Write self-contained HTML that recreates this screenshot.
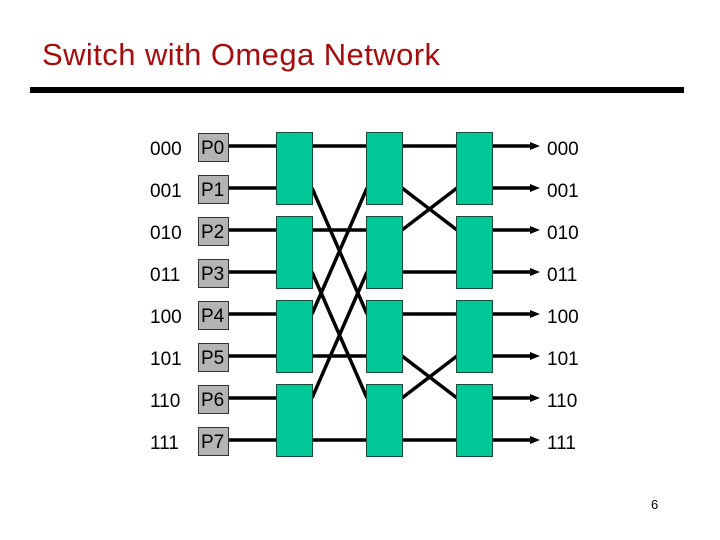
<!DOCTYPE html>
<html><head><style>
html,body{margin:0;padding:0;background:#fff;}
svg{display:block;}
</style></head><body>
<svg width="720" height="540" viewBox="0 0 720 540" xmlns="http://www.w3.org/2000/svg">
<text x="42" y="65" font-family="Liberation Sans, sans-serif" font-size="31" fill="#a50d0d" textLength="398">Switch with Omega Network</text>
<rect x="30" y="87" width="654" height="6" fill="#000"/>
<g stroke="#000" stroke-width="3.5" fill="none">
<line x1="228" y1="146" x2="277" y2="146"/>
<line x1="228" y1="188" x2="277" y2="188"/>
<line x1="228" y1="230" x2="277" y2="230"/>
<line x1="228" y1="272" x2="277" y2="272"/>
<line x1="228" y1="314" x2="277" y2="314"/>
<line x1="228" y1="356" x2="277" y2="356"/>
<line x1="228" y1="398" x2="277" y2="398"/>
<line x1="228" y1="440" x2="277" y2="440"/>
<line x1="312" y1="146" x2="367" y2="146"/>
<line x1="312" y1="188" x2="367" y2="314"/>
<line x1="312" y1="314" x2="367" y2="188"/>
<line x1="312" y1="230" x2="367" y2="230"/>
<line x1="312" y1="272" x2="367" y2="398"/>
<line x1="312" y1="398" x2="367" y2="272"/>
<line x1="312" y1="356" x2="367" y2="356"/>
<line x1="312" y1="440" x2="367" y2="440"/>
<line x1="402" y1="146" x2="457" y2="146"/>
<line x1="402" y1="188" x2="457" y2="230"/>
<line x1="402" y1="230" x2="457" y2="188"/>
<line x1="402" y1="272" x2="457" y2="272"/>
<line x1="402" y1="314" x2="457" y2="314"/>
<line x1="402" y1="356" x2="457" y2="398"/>
<line x1="402" y1="398" x2="457" y2="356"/>
<line x1="402" y1="440" x2="457" y2="440"/>
<line x1="492" y1="146" x2="532" y2="146"/>
<line x1="492" y1="188" x2="532" y2="188"/>
<line x1="492" y1="230" x2="532" y2="230"/>
<line x1="492" y1="272" x2="532" y2="272"/>
<line x1="492" y1="314" x2="532" y2="314"/>
<line x1="492" y1="356" x2="532" y2="356"/>
<line x1="492" y1="398" x2="532" y2="398"/>
<line x1="492" y1="440" x2="532" y2="440"/>
</g>
<g fill="#000">
<polygon points="530,142 540,146 530,150"/>
<polygon points="530,184 540,188 530,192"/>
<polygon points="530,226 540,230 530,234"/>
<polygon points="530,268 540,272 530,276"/>
<polygon points="530,310 540,314 530,318"/>
<polygon points="530,352 540,356 530,360"/>
<polygon points="530,394 540,398 530,402"/>
<polygon points="530,436 540,440 530,444"/>
</g>
<g fill="#00c896" stroke="#1a4a3a" stroke-width="1">
<rect x="276.5" y="132.5" width="36" height="72"/>
<rect x="276.5" y="216.5" width="36" height="72"/>
<rect x="276.5" y="300.5" width="36" height="72"/>
<rect x="276.5" y="384.5" width="36" height="72"/>
<rect x="366.5" y="132.5" width="36" height="72"/>
<rect x="366.5" y="216.5" width="36" height="72"/>
<rect x="366.5" y="300.5" width="36" height="72"/>
<rect x="366.5" y="384.5" width="36" height="72"/>
<rect x="456.5" y="132.5" width="36" height="72"/>
<rect x="456.5" y="216.5" width="36" height="72"/>
<rect x="456.5" y="300.5" width="36" height="72"/>
<rect x="456.5" y="384.5" width="36" height="72"/>
</g>
<g fill="#b4b4b4" stroke="#333" stroke-width="1">
<rect x="198.5" y="133.5" width="30" height="28"/>
<rect x="198.5" y="175.5" width="30" height="28"/>
<rect x="198.5" y="217.5" width="30" height="28"/>
<rect x="198.5" y="259.5" width="30" height="28"/>
<rect x="198.5" y="301.5" width="30" height="28"/>
<rect x="198.5" y="343.5" width="30" height="28"/>
<rect x="198.5" y="385.5" width="30" height="28"/>
<rect x="198.5" y="427.5" width="30" height="28"/>
</g>
<g font-family="Liberation Sans, sans-serif" font-size="19" fill="#000">
<text x="201" y="154">P0</text><text x="201" y="196">P1</text>
<text x="201" y="238">P2</text><text x="201" y="280">P3</text>
<text x="201" y="322">P4</text><text x="201" y="364">P5</text>
<text x="201" y="406">P6</text><text x="201" y="448">P7</text>
<text x="150" y="155">000</text><text x="150" y="197">001</text>
<text x="150" y="239">010</text><text x="150" y="281">011</text>
<text x="150" y="323">100</text><text x="150" y="365">101</text>
<text x="150" y="407">110</text><text x="150" y="449">111</text>
<text x="547" y="155">000</text><text x="547" y="197">001</text>
<text x="547" y="239">010</text><text x="547" y="281">011</text>
<text x="547" y="323">100</text><text x="547" y="365">101</text>
<text x="547" y="407">110</text><text x="547" y="449">111</text>
</g>
<text x="651" y="509" font-family="Liberation Sans, sans-serif" font-size="13" fill="#000">6</text>
</svg>
</body></html>
